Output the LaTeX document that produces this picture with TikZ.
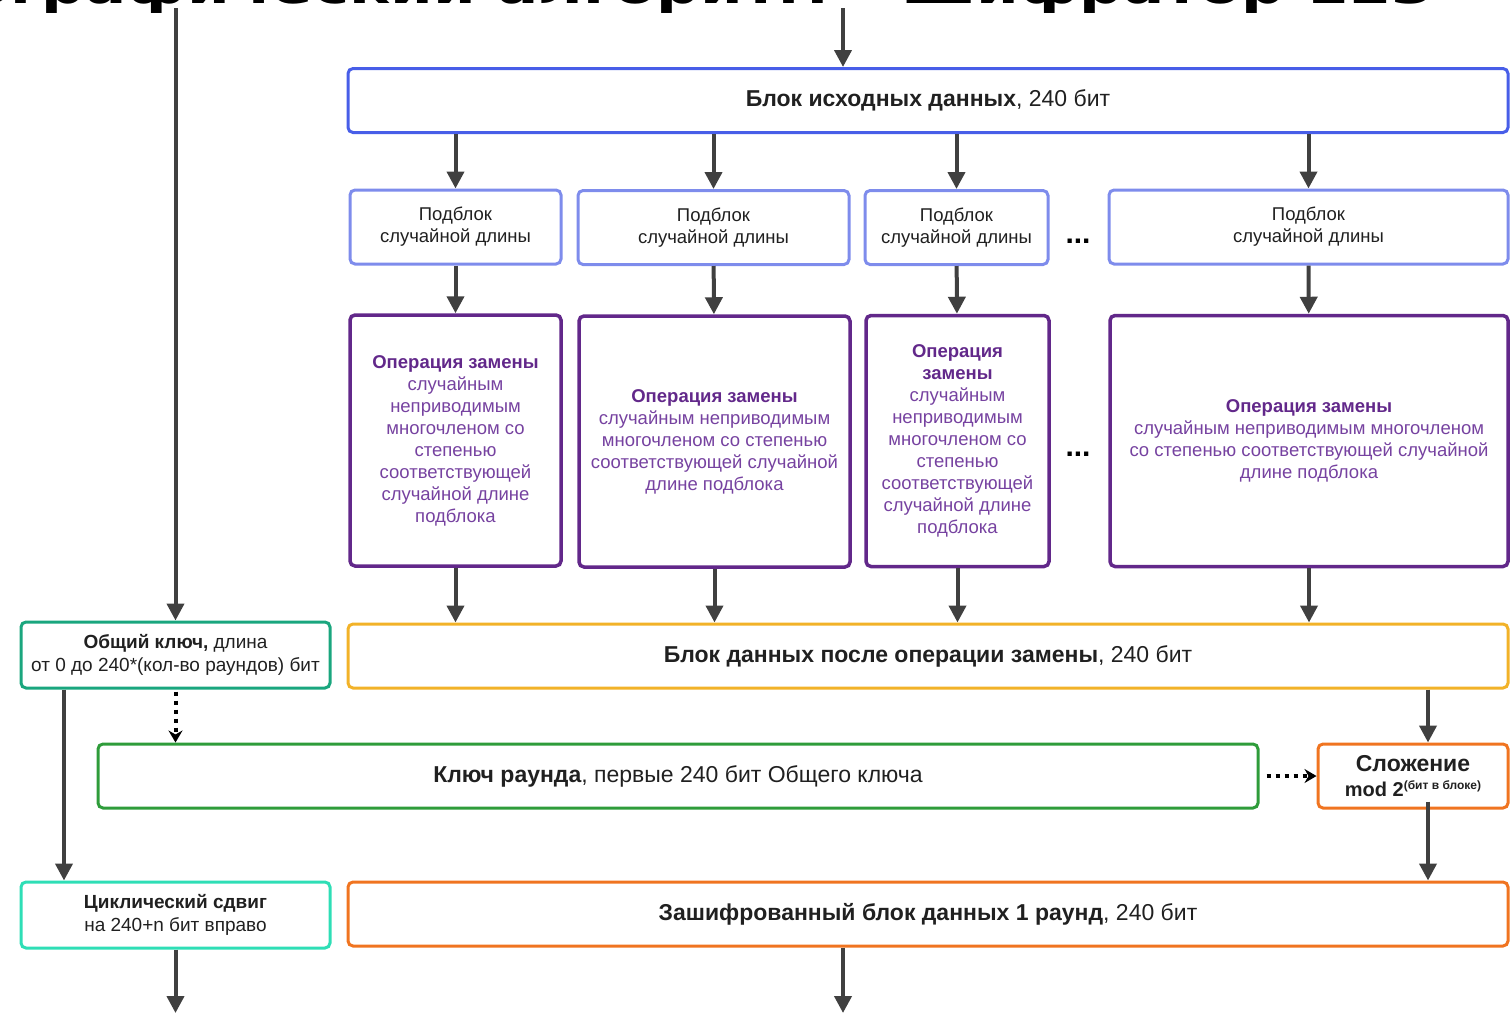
\documentclass[tikz,border=0pt]{standalone}
\usepackage{fontspec}
\setmainfont{Liberation Sans}
\newfontfamily\titlefont{DejaVu Sans}
\usetikzlibrary{arrows.meta,positioning}

\definecolor{srcblue}{RGB}{72,94,232}
\definecolor{subblue}{RGB}{126,140,236}
\definecolor{oppurple}{RGB}{98,40,138}
\definecolor{optxt}{RGB}{118,66,160}
\definecolor{mixyellow}{RGB}{242,178,40}
\definecolor{keyteal}{RGB}{26,166,126}
\definecolor{rkgreen}{RGB}{46,156,58}
\definecolor{addorange}{RGB}{240,116,32}
\definecolor{shiftcyan}{RGB}{46,222,182}
\definecolor{arrgray}{RGB}{64,64,64}
\definecolor{txtgray}{RGB}{32,32,32}

\begin{document}
\begin{tikzpicture}[x=1pt, y=-1pt,
  box/.style={draw, rounded corners=5pt, line width=3pt, align=center,
              text=txtgray, inner sep=2pt, font=\fontsize{23}{27}\selectfont},
  sub/.style={box, draw=subblue, font=\fontsize{18.5}{22}\selectfont,
              minimum height=74pt},
  op/.style={box, draw=oppurple, line width=3.5pt, text=optxt,
             font=\fontsize{18.5}{22}\selectfont, minimum height=251pt},
  wide/.style={box, minimum width=1160pt, minimum height=64pt},
  side/.style={box, minimum width=309pt, minimum height=66pt,
               font=\fontsize{19}{23.5}\selectfont},
  dots/.style={anchor=base, font=\bfseries\fontsize{30}{30}\selectfont, text=black},
  ar/.style={draw=arrgray, line width=4pt, -{Triangle[length=17pt,width=17pt]}},
  dar/.style={draw=black, line width=4pt, dash pattern=on 4pt off 5pt,
              -{Stealth[length=12pt,width=14pt,inset=4pt]}}
]
\useasboundingbox (0,0) rectangle (1511,1015);

% cut-off title
\node[anchor=base east, inner sep=0, xscale=1.27,
      font=\titlefont\bfseries\fontsize{48}{48}\selectfont]
  (title) at (1434,3) {Криптографический алгоритм – Шифратор 123};

% data block and its subblocks
\node[wide, draw=srcblue] (src) at (928,100.5) {\textbf{Блок исходных данных}, 240 бит};

\node[sub, minimum width=211pt] (sub1) at (455.5,227) {Подблок\\случайной длины};
\node[sub, minimum width=271pt] (sub2) at (713.5,227.5) {Подблок\\случайной длины};
\node[sub, minimum width=183pt] (sub3) at (956.5,227.5) {Подблок\\случайной длины};
\node[sub, minimum width=399pt] (sub4) at (1308.5,227) {Подблок\\случайной длины};
\node[dots] (dt1) at (1078,243) {...};

\node[op, minimum width=211pt] (op1) at (455.5,440.5)
  {{\bfseries\color{oppurple}Операция замены}\\случайным\\неприводимым\\многочленом со\\степенью\\соответствующей\\случайной длине\\подблока};
\node[op, minimum width=271pt] (op2) at (714.5,441.5)
  {{\bfseries\color{oppurple}Операция замены}\\случайным неприводимым\\многочленом со степенью\\соответствующей случайной\\длине подблока};
\node[op, minimum width=183pt] (op3) at (957.5,441)
  {{\bfseries\color{oppurple}Операция}\\{\bfseries\color{oppurple}замены}\\случайным\\неприводимым\\многочленом со\\степенью\\соответствующей\\случайной длине\\подблока};
\node[op, minimum width=398pt] (op4) at (1309,441)
  {{\bfseries\color{oppurple}Операция замены}\\случайным неприводимым многочленом\\со степенью соответствующей случайной\\длине подблока};
\node[dots] (dt2) at (1078,456) {...};

\node[wide, draw=mixyellow] (mix) at (928,656) {\textbf{Блок данных после операции замены}, 240 бит};

% key part
\node[side, draw=keyteal] (key) at (175.5,655)
  {\textbf{Общий ключ,} длина\\от 0 до 240*(кол-во раундов) бит};
\node[wide, draw=rkgreen] (rkey) at (678,776) {\textbf{Ключ раунда}, первые 240 бит Общего ключа};
\node[box, draw=addorange, minimum width=190pt, minimum height=64pt,
      font=\fontsize{20}{25}\selectfont] (add) at (1413,776)
  {{\fontsize{23}{25}\selectfont\textbf{Сложение}}\\\textbf{mod 2}\raisebox{7pt}{\fontsize{12}{12}\selectfont\bfseries (бит в блоке)}};
\node[side, draw=shiftcyan] (shift) at (175.5,915)
  {\textbf{Циклический сдвиг}\\на 240+n бит вправо};
\node[wide, draw=addorange] (enc) at (928,914) {\textbf{Зашифрованный блок данных 1 раунд}, 240 бит};

% free ends
\coordinate (din) at (843,8);
\coordinate (kin) at (175.5,8);
\coordinate (dout) at (843,1013);
\coordinate (kout) at (175.5,1013);
\coordinate (ax) at (1428,0);
\coordinate (lx) at (64,0);

\draw[ar] (din) -- (src.north -| din);
\draw[ar] (kin) -- (key);
\foreach \i in {1,...,4}{
  \draw[ar] (src.south -| sub\i.north) -- (sub\i);
  \draw[ar] (sub\i) -- (op\i);
  \draw[ar] (op\i) -- (mix.north -| op\i.south);
}
\draw[ar] (mix.south -| ax) -- (add.north -| ax);
\draw[ar] ([yshift=8pt]add.south -| ax) -- (enc.north -| ax);
\draw[dar] ([yshift=-2pt]key.south) -- (rkey.north -| key.south);
\draw[dar] ([xshift=7pt]rkey.east) -- (add);
\draw[ar] (key.south -| lx) -- (shift.north -| lx);
\draw[ar] (shift) -- (kout);
\draw[ar] (enc.south -| dout) -- (dout);
\end{tikzpicture}
\end{document}
